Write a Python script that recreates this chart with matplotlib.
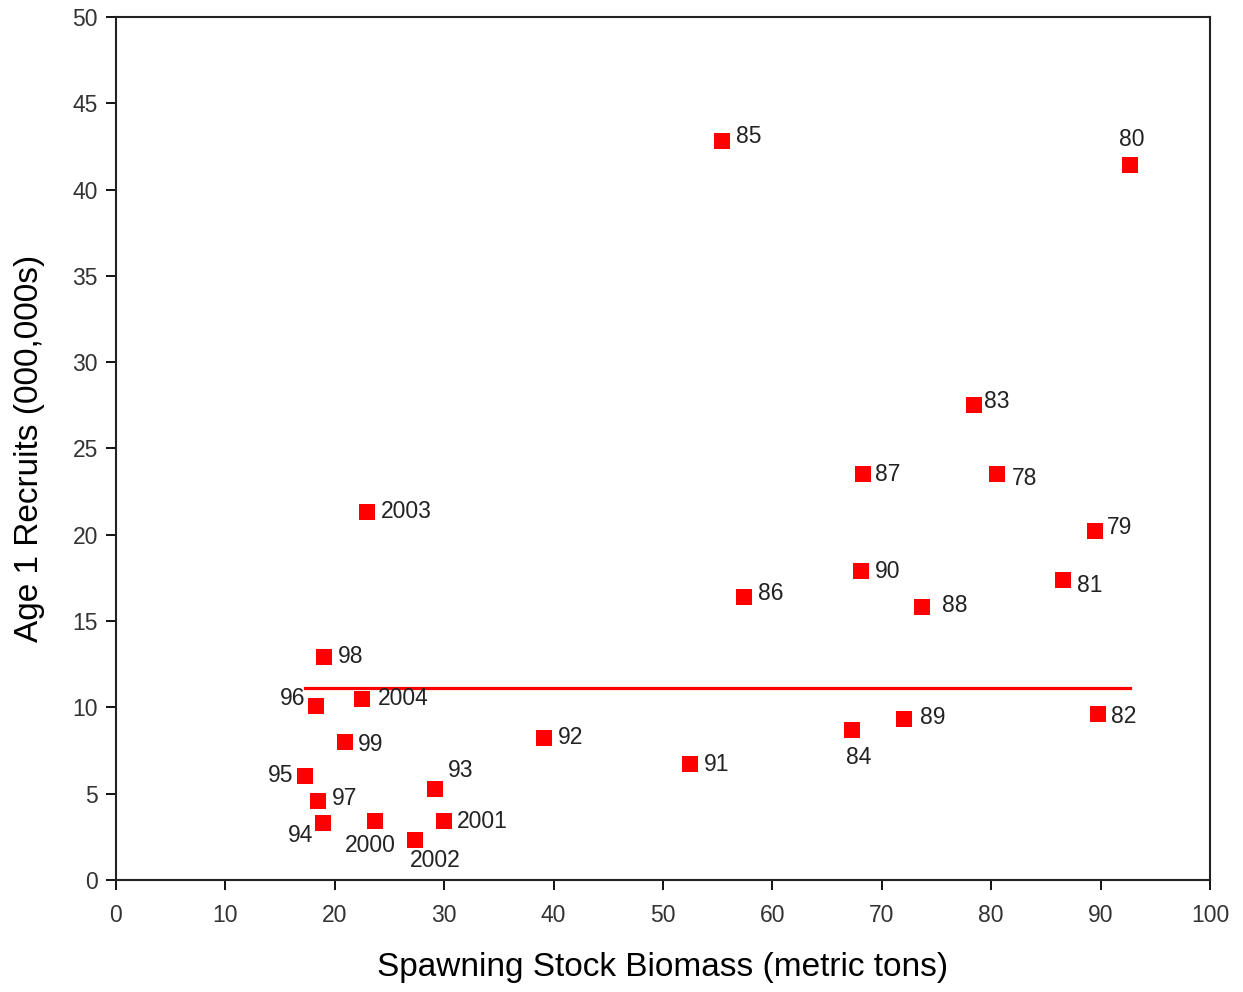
import numpy as np
import matplotlib
matplotlib.use('Agg')
import matplotlib.pyplot as plt

plt.rcParams['font.family'] = ['Liberation Sans', 'DejaVu Sans']

# Year-class labels, spawning stock biomass (metric tons), age-1 recruits (000,000s)
years = ['85', '80', '83', '87', '78', '79', '2003', '81', '90', '86', '88', '98',
         '96', '2004', '82', '84', '89', '99', '92', '91', '95', '97', '93', '94',
         '2000', '2001', '2002']
ssb = [55.4, 92.7, 78.4, 68.3, 80.5, 89.5, 22.9, 86.6, 68.1, 57.4, 73.7, 19.0,
       18.3, 22.5, 89.8, 67.3, 72.0, 20.9, 39.1, 52.5, 17.3, 18.5, 29.2, 18.9,
       23.7, 30.0, 27.3]
recruits = [42.8, 41.4, 27.5, 23.5, 23.5, 20.2, 21.3, 17.4, 17.9, 16.4, 15.8, 12.9,
            10.1, 10.5, 9.6, 8.7, 9.3, 8.0, 8.2, 6.7, 6.0, 4.6, 5.3, 3.3,
            3.4, 3.4, 2.3]
ref_level = 11.1

# label placement (pixel offsets from marker, horizontal alignment)
label_pos = {
    '85': (14, 5, 'left'), '80': (2, 26, 'center'), '83': (10, 4, 'left'),
    '87': (12, 0, 'left'), '78': (15, -4, 'left'), '79': (12, 4, 'left'),
    '2003': (14, 1, 'left'), '81': (14, -6, 'left'), '90': (14, 0, 'left'),
    '86': (14, 3, 'left'), '88': (20, 2, 'left'), '98': (14, 1, 'left'),
    '96': (-11, 7, 'right'), '2004': (16, 0, 'left'), '82': (13, -2, 'left'),
    '84': (6, -28, 'center'), '89': (16, 2, 'left'), '99': (13, -3, 'left'),
    '92': (14, 1, 'left'), '91': (14, 0, 'left'), '95': (-12, 1, 'right'),
    '97': (13, 2, 'left'), '93': (12, 18, 'left'), '94': (-10, -12, 'right'),
    '2000': (-5, -24, 'center'), '2001': (13, 0, 'left'), '2002': (21, -20, 'center'),
}

fig = plt.figure(figsize=(12.43, 9.92), dpi=100)
ax = fig.add_axes([0.0933, 0.1129, 0.8802, 0.8700])

ax.plot([min(ssb), max(ssb)], [ref_level, ref_level], color='#ff0000', lw=2.3, zorder=2)
ax.plot(ssb, recruits, 's', color='#ff0000', markersize=11, markeredgewidth=0, zorder=3)

for yr, x, y in zip(years, ssb, recruits):
    dx, dy, ha = label_pos[yr]
    ax.annotate(yr, (x, y), xytext=(dx, dy), textcoords='offset pixels',
                ha=ha, va='center', fontsize=16.5, color='#222222')

ax.set_xlim(0, 100)
ax.set_ylim(0, 50)
ax.set_xticks(np.arange(0, 101, 10))
ax.set_yticks(np.arange(0, 51, 5))
ax.tick_params(direction='out', length=7, width=1.3, labelsize=16.5,
               labelcolor='#333333', pad=6)
ax.tick_params(axis='x', pad=10)
for spine in ax.spines.values():
    spine.set_linewidth(1.5)
    spine.set_color('#222222')

ax.set_xlabel('Spawning Stock Biomass (metric tons)', fontsize=24, labelpad=18)
ax.set_ylabel('Age 1 Recruits (000,000s)', fontsize=24, labelpad=20)

fig.savefig('out.png', dpi=100, facecolor='white')
